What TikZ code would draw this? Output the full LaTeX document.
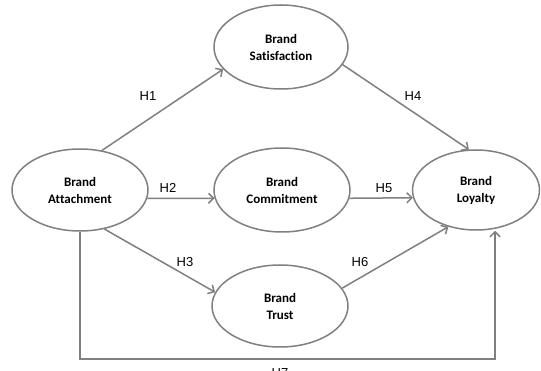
\documentclass[tikz,border=0pt]{standalone}
\usepackage{fontspec}
\setmainfont{Carlito}[Ligatures={NoCommon}]
\newfontfamily\labelfont{Liberation Sans}
\usetikzlibrary{shapes.geometric,arrows.meta}
\definecolor{linegray}{RGB}{128,128,128}
\tikzset{
  construct/.style={ellipse, draw=linegray, line width=1.5pt, inner sep=0pt,
    align=center, font=\fontsize{13}{17}\selectfont\bfseries, text=black},
  conn/.style={draw=linegray, line width=1.5pt, -{Straight Barb[length=5pt,width=10pt]}},
  hyp/.style={font=\labelfont\fontsize{13}{15}\selectfont, text=black, inner sep=0pt}
}
\begin{document}
\begin{tikzpicture}[x=1pt,y=-1pt]
\useasboundingbox (0,0) rectangle (541,371);
\fill[white] (0,0) rectangle (541,371);
\node[construct, minimum width=136pt, minimum height=82pt] (a) at (80,190) {Brand\\Attachment};
\node[construct, minimum width=134pt, minimum height=84pt] (s) at (281,47) {Brand\\Satisfaction};
\node[construct, minimum width=136pt, minimum height=84pt] (c) at (282,190) {Brand\\Commitment};
\node[construct, minimum width=136pt, minimum height=82pt] (t) at (280,306) {Brand\\Trust};
\node[construct, minimum width=127pt, minimum height=80pt] (l) at (476,190) {Brand\\Loyalty};
\draw[conn] (a.61) -- (s.201);
\draw[conn] (a.-7) -- (c.187);
\draw[conn] (a.-58) -- (t.168);
\draw[conn] (s.-16) -- (l.100);
\draw[conn] (c.-7) -- (l.187);
\draw[conn] (t.16) -- (l.-127);
\coordinate (h7) at (495,359);
\draw[conn] (a.south) |- (h7) -- (h7 |- l.south);
\node[hyp] (h1) at (148,96) {H1};
\node[hyp] (h2) at (168,188) {H2};
\node[hyp] (h3) at (185,262) {H3};
\node[hyp] (h4) at (413,96) {H4};
\node[hyp] (h5) at (384,188) {H5};
\node[hyp] (h6) at (360,262) {H6};
\node[hyp] (h7l) at (280,373) {H7};
\end{tikzpicture}
\end{document}
